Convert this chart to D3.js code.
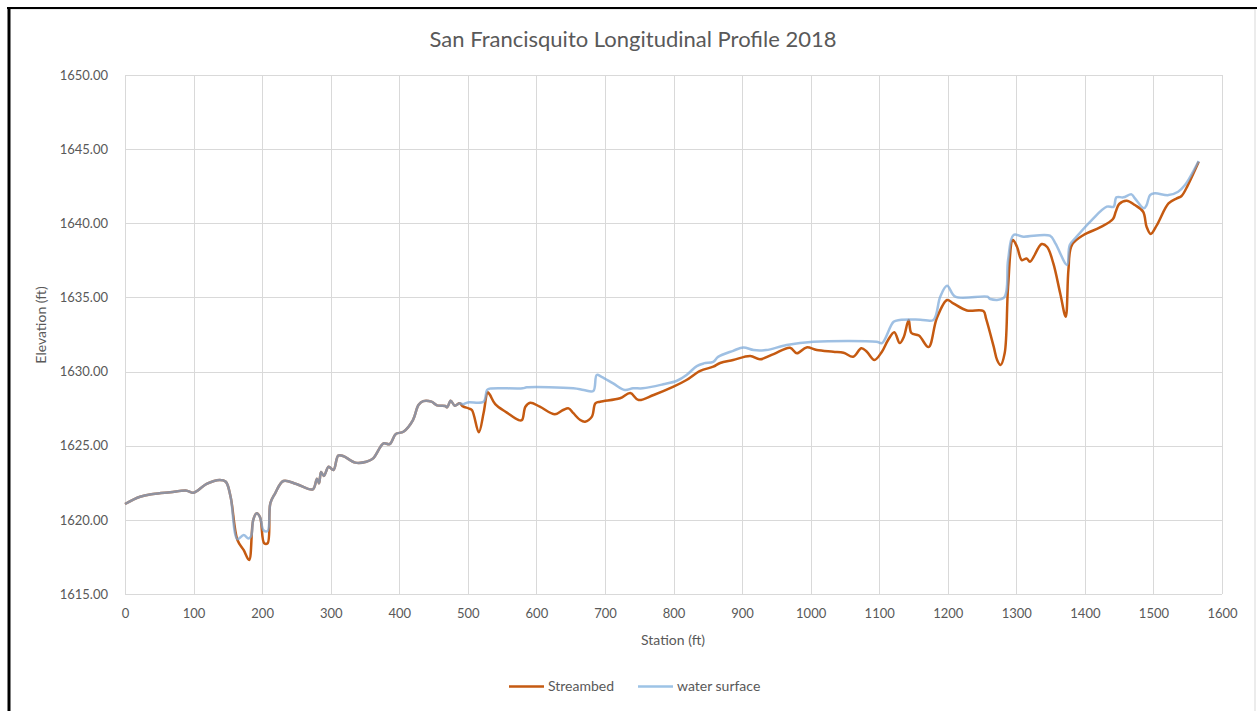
<!DOCTYPE html>
<html>
<head>
<meta charset="utf-8">
<script src="https://cdn.jsdelivr.net/npm/d3@7"></script>
<style>
  body { margin: 0; background: #fff; }
  svg text { font-family: Lato, "Open Sans", sans-serif; fill: #595959; }
</style>
</head>
<body>
<svg id="chart" width="1257" height="711"></svg>
<script>
// streambed profile
var bedStation = [0, 22, 41, 66, 90, 100, 119, 138, 147, 154, 164, 173, 181, 187, 192, 197, 203, 208, 212, 219, 231, 250, 274, 280, 283, 286, 290, 297, 304, 311, 318, 336, 352, 362, 377, 386, 395, 406, 420, 428, 435, 447, 455, 467, 470, 475, 481, 488, 493,
  501, 506, 516, 523, 529, 532, 540, 557, 574, 579, 584, 591, 605, 627, 639, 647, 654, 664, 671, 681, 686, 693, 722, 737, 749, 771, 800, 819, 839, 858, 868, 887, 912, 926, 946, 970, 980, 994, 1009, 1033, 1048, 1062, 1074, 1082, 1093, 1104, 1113, 1122, 1130, 1136, 1143, 1147, 1158, 1172, 1184, 1199, 1208, 1228, 1252, 1256, 1267, 1272, 1277, 1283, 1288, 1295, 1301, 1308, 1315, 1320, 1337, 1345, 1354, 1364, 1372, 1376, 1381, 1398, 1422, 1441, 1445, 1450, 1461, 1473, 1485, 1490, 1496, 1505, 1522, 1534, 1541, 1549, 1566];
var bedElev = [1621.07, 1621.56, 1621.74, 1621.86, 1621.97, 1621.83, 1622.42, 1622.69, 1622.57, 1621.56, 1618.64, 1617.97, 1617.29, 1619.99, 1620.44, 1620.17, 1618.42, 1618.42, 1621.12, 1621.79, 1622.62, 1622.42, 1622.06, 1622.78, 1622.46, 1623.23, 1622.96, 1623.58, 1623.36, 1624.33, 1624.31, 1623.86, 1623.92, 1624.15, 1625.16, 1625.11, 1625.79, 1625.94, 1626.73, 1627.74, 1628.01, 1627.97, 1627.72, 1627.68, 1627.59, 1628.03, 1627.7, 1627.86, 1627.65,
  1627.52, 1627.41, 1625.9, 1627.2, 1628.6, 1628.45, 1627.8, 1627.23, 1626.73, 1626.73, 1627.63, 1627.9, 1627.63, 1627.12, 1627.41, 1627.52, 1627.19, 1626.73, 1626.62, 1626.96, 1627.86, 1627.97, 1628.2, 1628.55, 1628.08, 1628.42, 1628.98, 1629.43, 1630.05, 1630.33, 1630.58, 1630.78, 1631.05, 1630.83, 1631.18, 1631.61, 1631.23, 1631.63, 1631.45, 1631.34, 1631.27, 1631.0, 1631.57, 1631.34, 1630.78, 1631.34, 1632.13, 1632.65, 1631.92, 1632.35, 1633.48, 1632.6, 1632.43, 1631.65, 1633.6, 1634.83, 1634.6, 1634.12, 1634.08, 1633.55, 1631.68, 1630.78, 1630.44, 1631.23, 1635.72, 1638.87, 1638.42, 1637.52, 1637.63, 1637.41, 1638.6, 1638.4, 1637.29, 1635.28, 1633.7, 1636.85, 1638.53, 1639.21, 1639.72, 1640.29, 1640.78, 1641.3, 1641.52, 1641.23, 1640.78, 1639.77, 1639.28, 1639.88, 1641.34, 1641.68, 1641.84, 1642.46, 1644.15];

// water surface profile
var wsStation = [0, 22, 41, 66, 90, 100, 119, 138, 147, 154, 164, 173, 180, 184, 187, 192, 197, 202, 208, 212, 219, 231, 250, 274, 280, 283, 286, 290, 297, 304, 311, 318, 336, 352, 362, 377, 386, 395, 406, 420, 428, 435, 447, 455, 467, 470, 475, 481, 488, 493,
  500, 523, 528, 532, 580, 586, 654, 669, 683, 688, 695, 712, 729, 741, 755, 785, 805, 819, 834, 844, 858, 865, 887, 902, 917, 935, 965, 1004, 1096, 1104, 1121, 1130, 1160, 1179, 1189, 1199, 1211, 1258, 1262, 1282, 1288, 1296, 1310, 1349, 1357, 1374, 1378, 1388, 1410, 1432, 1442, 1446, 1456, 1468, 1473, 1486, 1490, 1495, 1502, 1522, 1536, 1546, 1566];
var wsElev = [1621.07, 1621.56, 1621.74, 1621.86, 1621.97, 1621.83, 1622.42, 1622.69, 1622.57, 1621.56, 1618.7, 1618.98, 1618.75, 1618.9, 1619.99, 1620.44, 1620.17, 1619.3, 1619.25, 1621.12, 1621.79, 1622.62, 1622.42, 1622.06, 1622.78, 1622.46, 1623.23, 1622.96, 1623.58, 1623.36, 1624.33, 1624.31, 1623.86, 1623.92, 1624.15, 1625.16, 1625.11, 1625.79, 1625.94, 1626.73, 1627.74, 1628.01, 1627.97, 1627.72, 1627.68, 1627.59, 1628.03, 1627.7, 1627.86, 1627.8,
  1627.92, 1627.97, 1628.76, 1628.85, 1628.87, 1628.94, 1628.87, 1628.76, 1628.69, 1629.77, 1629.65, 1629.2, 1628.76, 1628.87, 1628.87, 1629.14, 1629.38, 1629.77, 1630.37, 1630.55, 1630.66, 1630.99, 1631.4, 1631.63, 1631.45, 1631.45, 1631.79, 1632.01, 1632.01, 1631.92, 1633.36, 1633.48, 1633.5, 1633.48, 1635.05, 1635.79, 1635.05, 1635.05, 1634.89, 1634.98, 1637.52, 1639.21, 1639.1, 1639.16, 1638.65, 1637.19, 1638.53, 1639.1, 1640.22, 1641.12, 1641.12, 1641.75, 1641.75, 1641.95, 1641.68, 1641.01, 1641.23, 1641.9, 1642.02, 1641.9, 1642.13, 1642.58, 1644.2];

var xTicks = [0, 100, 200, 300, 400, 500, 600, 700, 800, 900, 1000, 1100, 1200, 1300, 1400, 1500, 1600];
var yTicks = [1615, 1620, 1625, 1630, 1635, 1640, 1645, 1650];

var svg = d3.select("#chart");

// frame like the screenshot
svg.append("rect").attr("x", 9).attr("y", 9).attr("width", 1246).attr("height", 710)
  .attr("fill", "none").attr("stroke", "#d9d9d9");
svg.append("line").attr("x1", 7).attr("x2", 1257).attr("y1", 8).attr("y2", 8)
  .attr("stroke", "#000").attr("stroke-width", 2);
svg.append("line").attr("x1", 9).attr("x2", 9).attr("y1", 7).attr("y2", 711)
  .attr("stroke", "#000").attr("stroke-width", 3);

var plotLeft = 125, plotRight = 1222, plotTop = 75, plotBottom = 594;

var x = d3.scaleLinear().domain([0, 1600]).range([plotLeft, plotRight]);
var y = d3.scaleLinear().domain([1615, 1650]).range([plotBottom, plotTop]);

// grid
var grid = svg.append("g");
grid.selectAll(".hg").data(yTicks).enter().append("line")
  .attr("x1", plotLeft).attr("x2", plotRight)
  .attr("y1", function(d){ return Math.round(y(d)) + 0.5; })
  .attr("y2", function(d){ return Math.round(y(d)) + 0.5; })
  .attr("stroke", "#d9d9d9");
grid.selectAll(".vg").data(xTicks).enter().append("line")
  .attr("y1", plotTop).attr("y2", plotBottom)
  .attr("x1", function(d){ return Math.round(x(d)) + 0.5; })
  .attr("x2", function(d){ return Math.round(x(d)) + 0.5; })
  .attr("stroke", "#d9d9d9");

// axes (labels only, Excel style)
var xAxis = svg.append("g").attr("transform", "translate(0," + (plotBottom + 12) + ")")
  .call(d3.axisBottom(x).tickValues(xTicks).tickSize(0).tickFormat(d3.format("d")));
xAxis.select(".domain").remove();
xAxis.selectAll("text").style("font-size", "13px").style("fill", "#595959")
  .style("font-family", "Lato, 'Open Sans', sans-serif");

var yAxis = svg.append("g").attr("transform", "translate(" + (plotLeft - 14) + ",0)")
  .call(d3.axisLeft(y).tickValues(yTicks).tickSize(0).tickFormat(d3.format(".2f")));
yAxis.select(".domain").remove();
yAxis.selectAll("text").style("font-size", "13px").style("fill", "#595959")
  .style("font-family", "Lato, 'Open Sans', sans-serif");

// lines
var bed = bedStation.map(function(s, i){ return [s, bedElev[i]]; });
var ws = wsStation.map(function(s, i){ return [s, wsElev[i]]; });

var line = d3.line()
  .x(function(d){ return x(d[0]); })
  .y(function(d){ return y(d[1]); })
  .curve(d3.curveCatmullRom.alpha(0.5));

svg.append("path").datum(bed).attr("d", line)
  .attr("fill", "none").attr("stroke", "#C55A11").attr("stroke-width", 2.5)
  .attr("stroke-linejoin", "round");
svg.append("path").datum(ws).attr("d", line)
  .attr("fill", "none").attr("stroke", "#7AA8D8").attr("stroke-width", 2.5)
  .attr("stroke-opacity", 0.72).attr("stroke-linejoin", "round");

// titles
svg.append("text").attr("x", 633).attr("y", 47).attr("text-anchor", "middle")
  .style("font-size", "22px").text("San Francisquito Longitudinal Profile 2018");
svg.append("text").attr("x", 673).attr("y", 645).attr("text-anchor", "middle")
  .style("font-size", "14px").text("Station (ft)");
svg.append("text").attr("transform", "translate(46,325) rotate(-90)")
  .attr("text-anchor", "middle").style("font-size", "14px").text("Elevation (ft)");

// legend
var legend = [["Streambed", "#C55A11", 509], ["water surface", "#9DC3E6", 638]];
legend.forEach(function(l){
  svg.append("line").attr("x1", l[2]).attr("x2", l[2] + 35).attr("y1", 686.5).attr("y2", 686.5)
    .attr("stroke", l[1]).attr("stroke-width", 2.5);
  svg.append("text").attr("x", l[2] + 39).attr("y", 691).style("font-size", "14px").text(l[0]);
});
</script>
</body>
</html>
